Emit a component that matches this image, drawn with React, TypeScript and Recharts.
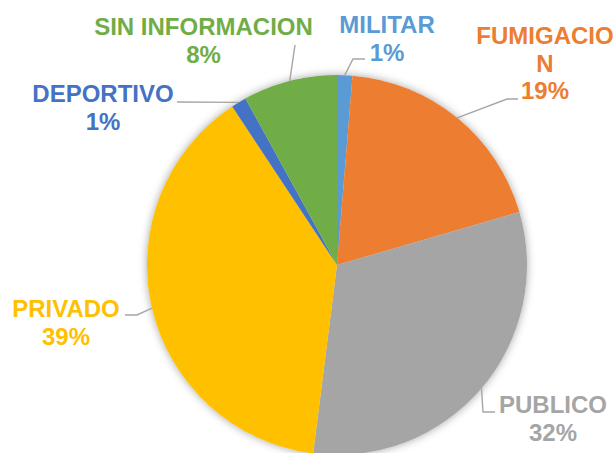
import React from "react";
import { PieChart, Pie, Cell } from "recharts";

const categories = ["MILITAR", "FUMIGACION", "PUBLICO", "PRIVADO", "DEPORTIVO", "SIN INFORMACION"];
const values = [1.3, 19.2, 31.5, 38.7, 1.3, 8.0];
const labelLines = [["MILITAR"], ["FUMIGACIO", "N"], ["PUBLICO"], ["PRIVADO"], ["DEPORTIVO"], ["SIN INFORMACION"]];
const colors = ["#5B9BD5", "#ED7D31", "#A5A5A5", "#FFC000", "#4472C4", "#70AD47"];

// label layout relative to pie centre: text centre x / first baseline, leader elbow and end
const labelLayout = [
  { tx: 50, ty: -232, ex: 16, ey: -206, fx: 28, fy: -206 },
  { tx: 208, ty: -221, ex: 170, ey: -166, fx: 181, fy: -166 },
  { tx: 216, ty: 148, ex: 146, ey: 147, fx: 158, fy: 147 },
  { tx: -271, ty: 52, ex: -200, ey: 50, fx: -212, fy: 50 },
  { tx: -234, ty: -163, ex: -160, ey: -163, fx: -160, fy: -163 },
  { tx: -133.5, ty: -230, ex: -42, ey: -220, fx: -42, fy: -220 },
];

const data = categories.map((name, i) => ({ name, value: values[i] }));

const RADIAN = Math.PI / 180;
const LINE_H = 27.5;

const renderLabel = (props: any) => {
  const { cx, cy, midAngle, outerRadius, percent, index } = props;
  const L = labelLayout[index];
  const sx = cx + outerRadius * Math.cos(-midAngle * RADIAN);
  const sy = cy + outerRadius * Math.sin(-midAngle * RADIAN);
  const lines = [...labelLines[index], `${Math.round(percent * 100)}%`];
  const color = colors[index];
  return (
    <g key={`lbl-${index}`}>
      <polyline
        points={`${sx},${sy} ${cx + L.ex},${cy + L.ey} ${cx + L.fx},${cy + L.fy}`}
        fill="none"
        stroke="#A6A6A6"
        strokeWidth={1.4}
      />
      <text
        x={cx + L.tx}
        y={cy + L.ty}
        textAnchor="middle"
        fill={color}
        style={{ fontFamily: "'Liberation Sans', Arial, sans-serif", fontWeight: 700, fontSize: 24 }}
      >
        {lines.map((ln, k) => (
          <tspan key={k} x={cx + L.tx} dy={k === 0 ? 0 : LINE_H}>
            {ln}
          </tspan>
        ))}
      </text>
    </g>
  );
};

export default function App() {
  return (
    <div style={{ position: "absolute", left: 0, top: 0, width: 615, height: 453, background: "#fff" }}>
      <style>{`.shadowpie path { filter: drop-shadow(0px 0px 4px rgba(0,0,0,0.35)); }`}</style>
      <PieChart width={615} height={453} margin={{ top: 0, right: 0, bottom: 0, left: 0 }}>
        <Pie
          className="shadowpie"
          data={data}
          dataKey="value"
          nameKey="name"
          cx={337}
          cy={265}
          outerRadius={190}
          startAngle={90}
          endAngle={-270}
          stroke="none"
          label={false}
          labelLine={false}
          isAnimationActive={false}
        >
          {data.map((d, i) => (
            <Cell key={`s-${i}`} fill="#ffffff" />
          ))}
        </Pie>
        <Pie
          data={data}
          dataKey="value"
          nameKey="name"
          cx={337}
          cy={265}
          outerRadius={190}
          startAngle={90}
          endAngle={-270}
          stroke="none"
          label={renderLabel}
          labelLine={false}
          isAnimationActive={false}
        >
          {data.map((d, i) => (
            <Cell key={`c-${i}`} fill={colors[i]} />
          ))}
        </Pie>
      </PieChart>
    </div>
  );
}
